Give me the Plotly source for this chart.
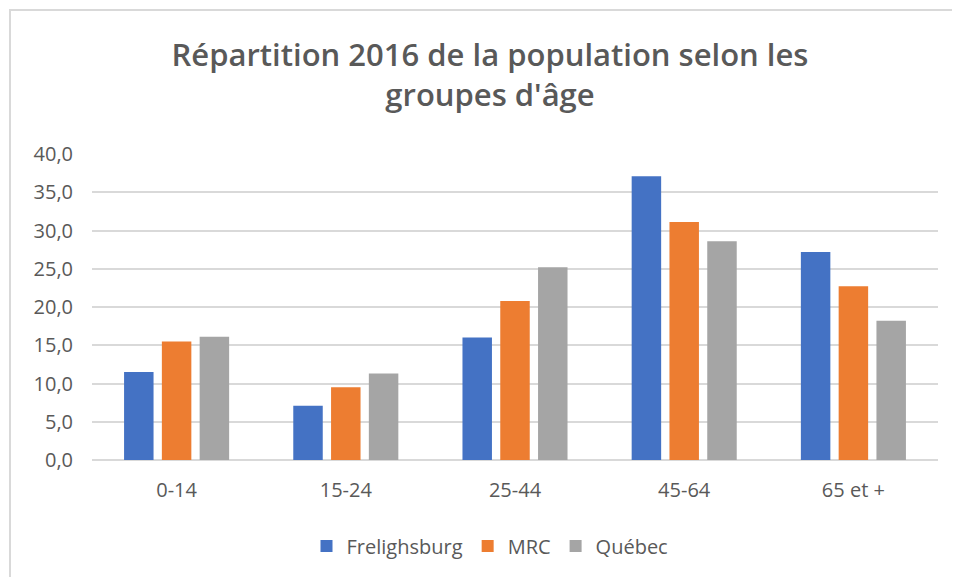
import plotly.graph_objects as go

categories = ["0-14", "15-24", "25-44", "45-64", "65 et +"]
frelighsburg = [11.5, 7.1, 16.0, 37.1, 27.2]
mrc = [15.5, 9.5, 20.8, 31.1, 22.7]
quebec = [16.1, 11.3, 25.2, 28.6, 18.2]
y_ticks = [0, 5, 10, 15, 20, 25, 30, 35, 40]

TXT = "#595959"
GRID = "#d9d9d9"

fig = go.Figure()
for name, vals, col in [("Frelighsburg", frelighsburg, "#4472C4"),
                        ("MRC", mrc, "#ED7D31"),
                        ("Québec", quebec, "#A5A5A5")]:
    fig.add_trace(go.Bar(x=categories, y=vals, name=name,
                         marker=dict(color=col, line=dict(width=0))))

# page body has an 8px margin: screen coords = figure coords + 8
O = 8
W, H = 960, 577
PL, PR, PT, PB = 92, 938, 154, 460   # plot area in screen px
L = PL - O
T = PT - O
R = W - (PR - O)
B = H - (PB - O)
pw, ph = PR - PL, PB - PT

def px_x(x):
    return (x - PL) / pw

def px_y(y):
    return (PB - y) / ph

fig.update_layout(
    width=W, height=H,
    margin=dict(l=L, r=R, t=T, b=B),
    paper_bgcolor="white", plot_bgcolor="white",
    separators=", ",
    barmode="group", bargap=0.33, bargroupgap=0.22,
    title=dict(text="Répartition 2016 de la population selon les<br>groupes d'âge",
               x=(490 - O) / W, xanchor="center", y=1 - (66 - O) / H, yanchor="middle",
               font=dict(family="Open Sans", size=31, color=TXT, weight=600)),
    font=dict(family="Open Sans", size=20, color=TXT),
    xaxis=dict(showgrid=False, showline=False, ticks="", ticklabelstandoff=16,
               tickfont=dict(size=20, color=TXT)),
    yaxis=dict(range=[0, 40], tickvals=y_ticks, tickformat=".1f",
               showgrid=True, gridcolor=GRID, gridwidth=2,
               zeroline=True, zerolinecolor=GRID, zerolinewidth=2,
               ticks="", ticklen=0, ticklabelstandoff=18,
               tickfont=dict(size=20, color=TXT)),
    legend=dict(orientation="h", x=px_x(490), xanchor="center", y=px_y(546), yanchor="middle",
                font=dict(size=20, color=TXT), itemwidth=30, traceorder="normal"),
    showlegend=True,
)

fig.add_shape(type="rect", xref="paper", yref="paper",
              x0=px_x(10), x1=px_x(1000), y0=px_y(640), y1=px_y(10),
              line=dict(color=GRID, width=2), fillcolor="rgba(0,0,0,0)", layer="below")

fig.write_html("out.html")
